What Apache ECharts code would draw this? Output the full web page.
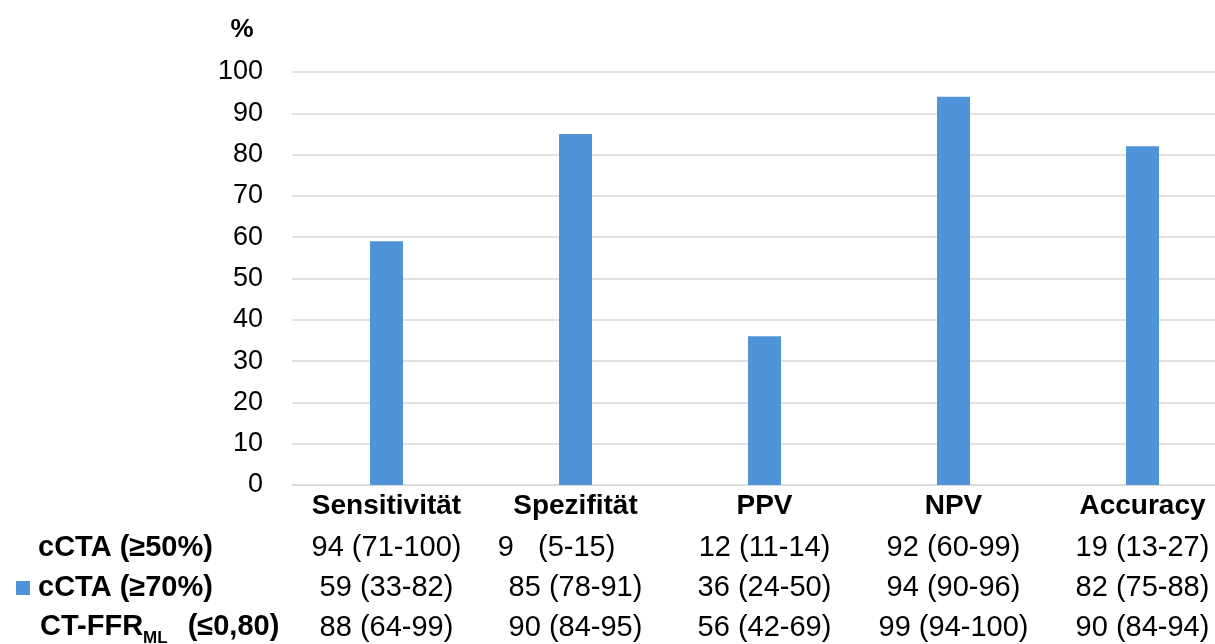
<!DOCTYPE html>
<html><head><meta charset="utf-8">
<script src="https://cdn.jsdelivr.net/npm/echarts@6/dist/echarts.min.js"></script>
<style>html,body{margin:0;padding:0;background:#fff;overflow:hidden;width:1215px;height:644px}#c{width:1237px;height:644px}</style>
</head><body><div id="c"></div>
<script>
const categories = ['Sensitivität', 'Spezifität', 'PPV', 'NPV', 'Accuracy'];
const cCTA70 = [59, 85, 36, 94, 82];
const rowCCTA50 = ['94 (71-100)', '9   (5-15)', '12 (11-14)', '92 (60-99)', '19 (13-27)'];
const rowCCTA70 = ['59 (33-82)', '85 (78-91)', '36 (24-50)', '94 (90-96)', '82 (75-88)'];
const rowCTFFR = ['88 (64-99)', '90 (84-95)', '56 (42-69)', '99 (94-100)', '90 (84-94)'];
const yTicks = {min: 0, max: 100, interval: 10};

const chart = echarts.init(document.getElementById('c'));
const FONT = '"Liberation Sans", Arial, sans-serif';
function rowAxis(data, offset) {
  return {
    type: 'category', data: data, position: 'bottom', offset: offset, gridIndex: 0,
    axisLine: {show: false}, axisTick: {show: false}, splitLine: {show: false},
    axisLabel: {interval: 0, color: '#000', fontFamily: FONT, fontSize: 29, margin: 6}
  };
}
// the short "9   (5-15)" cell sits left-aligned in the original table
const row1Items = rowCCTA50.map((v, i) => i === 1 ? {value: v, textStyle: {padding: [0, 38, 0, 0]}} : v);
chart.setOption({
  animation: false,
  grid: {left: 292, right: 0, top: 72, bottom: 159, containLabel: false},
  xAxis: [
    {type: 'category', data: categories,
     axisLine: {show: true, lineStyle: {color: '#d9d9d9', width: 1.5}},
     axisTick: {show: false},
     axisLabel: {interval: 0, color: '#000', fontFamily: FONT, fontWeight: 'bold', fontSize: 28, margin: 7}},
    rowAxis(row1Items, 42),
    rowAxis(rowCCTA70, 82),
    rowAxis(rowCTFFR, 122)
  ],
  yAxis: {
    type: 'value', min: yTicks.min, max: yTicks.max, interval: yTicks.interval,
    name: '%', nameLocation: 'end', nameGap: 29,
    nameTextStyle: {color: '#000', fontFamily: FONT, fontWeight: 'bold', fontSize: 26, align: 'center', padding: [0, 100, 0, 0]},
    axisLine: {show: false}, axisTick: {show: false},
    axisLabel: {color: '#000', fontFamily: FONT, fontSize: 27, margin: 29},
    splitLine: {lineStyle: {color: '#d9d9d9', width: 1.5}}
  },
  series: [{
    name: 'cCTA (≥70%)', type: 'bar', data: cCTA70, barWidth: 33,
    itemStyle: {color: '#4f94d8'}
  }],
  graphic: [
    {type: 'text', left: 38, top: 533, style: {text: 'cCTA (≥50%)', fill: '#000', font: 'bold 29px ' + FONT}},
    {type: 'rect', left: 16, top: 581, shape: {width: 14, height: 14}, style: {fill: '#4f94d8'}},
    {type: 'text', left: 38, top: 573, style: {text: 'cCTA (≥70%)', fill: '#000', font: 'bold 29px ' + FONT}},
    {type: 'text', left: 40, top: 612, style: {
      text: '{a|CT-FFR}{s|ML}{b|(≤0,80)}',
      rich: {
        a: {fill: '#000', fontFamily: FONT, fontWeight: 'bold', fontSize: 29, verticalAlign: 'bottom'},
        s: {fill: '#000', fontFamily: FONT, fontWeight: 'bold', fontSize: 17, verticalAlign: 'bottom', padding: [0, 0, -6, 0]},
        b: {fill: '#000', fontFamily: FONT, fontWeight: 'bold', fontSize: 29, verticalAlign: 'bottom', padding: [0, 0, 0, 20]}
      }
    }}
  ]
});
</script></body></html>
